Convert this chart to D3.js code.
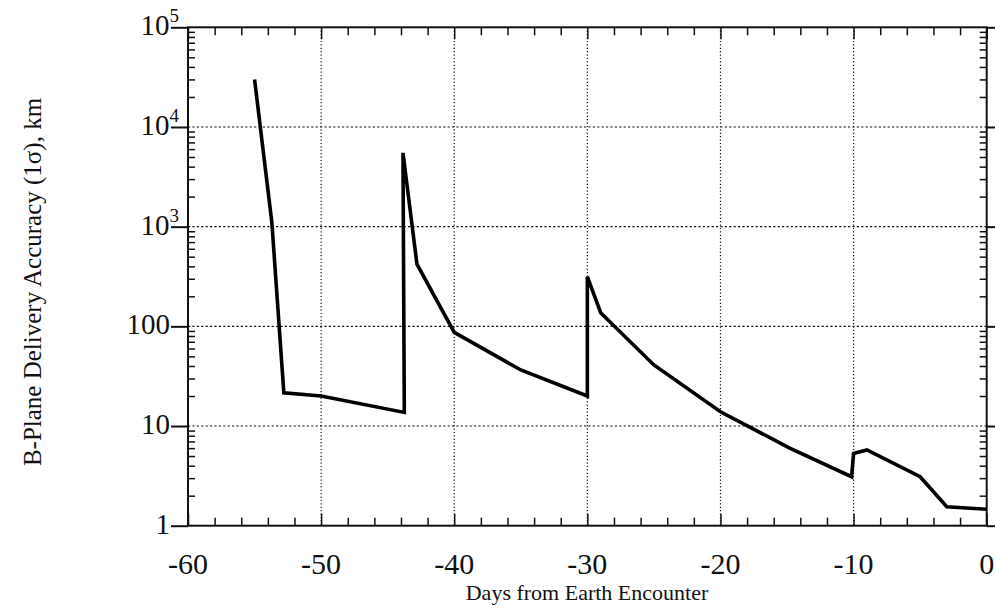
<!DOCTYPE html>
<html>
<head>
<meta charset="utf-8">
<script src="https://cdn.jsdelivr.net/npm/d3@7"></script>
<style>
  html, body { margin: 0; padding: 0; background: #fff; }
  svg { display: block; font-family: "Liberation Serif", "Times New Roman", serif; }
</style>
</head>
<body>
<svg id="chart" width="995" height="609"></svg>
<script>
// B-plane delivery accuracy versus time before Earth encounter
const days = [-55, -53.7, -52.8, -50, -43.75, -43.85, -42.8, -40, -35, -30, -30, -29, -25, -20, -14.8, -10.15, -10, -9, -5, -3, 0];
const accuracyKm = [30000, 1100, 21.5, 20, 13.7, 5500, 420, 87, 36.5, 20, 315, 137, 41, 13.9, 6, 3.1, 5.3, 5.75, 3.1, 1.55, 1.46];

const xTicks = [-60, -50, -40, -30, -20, -10, 0];
const xTickLabels = ["-60", "-50", "-40", "-30", "-20", "-10", "0"];
const yTicks = [1, 10, 100, 1000, 10000, 100000];
const yTickLabels = [
  { base: "1", exp: "" },
  { base: "10", exp: "" },
  { base: "100", exp: "" },
  { base: "10", exp: "3" },
  { base: "10", exp: "4" },
  { base: "10", exp: "5" }
];
const xTitle = "Days from Earth Encounter";
const yTitle = "B-Plane Delivery Accuracy (1σ), km";

const svg = d3.select("#chart");
const plotLeft = 188, plotRight = 986.7, plotTop = 27.3, plotBottom = 525.7;

const x = d3.scaleLinear().domain([-60, 0]).range([plotLeft, plotRight]);
const y = d3.scaleLog().domain([1, 1e5]).range([plotBottom, plotTop]);

const ink = "#111";

// dotted grid at major ticks
const grid = svg.append("g");
grid.selectAll("line.gx")
  .data(xTicks.filter(d => d > -60 && d < 0))
  .join("line")
  .attr("x1", d => x(d)).attr("x2", d => x(d))
  .attr("y1", plotTop).attr("y2", plotBottom)
  .attr("stroke", ink).attr("stroke-width", 1.2)
  .attr("stroke-dasharray", "1.2,2.2");
grid.selectAll("line.gy")
  .data(yTicks.filter(d => d > 1 && d < 1e5))
  .join("line")
  .attr("x1", plotLeft).attr("x2", plotRight)
  .attr("y1", d => y(d)).attr("y2", d => y(d))
  .attr("stroke", ink).attr("stroke-width", 1.2)
  .attr("stroke-dasharray", "2.2,2.2");

// minor ticks
const xMinor = d3.range(-58, 0, 2).filter(d => d % 10 !== 0);
const yMinor = [];
for (let e = 0; e < 5; e++) for (let m = 2; m <= 9; m++) yMinor.push(m * Math.pow(10, e));

const xBottom = d3.axisBottom(x).tickValues(xMinor).tickSize(-8).tickFormat("");
const xTop = d3.axisTop(x).tickValues(xMinor).tickSize(-8).tickFormat("");
const xBottomMajor = d3.axisBottom(x).tickValues(xTicks).tickSize(-12).tickFormat("");
const xTopMajor = d3.axisTop(x).tickValues(xTicks).tickSize(-12).tickFormat("");
const yLeftMinor = d3.axisLeft(y).tickValues(yMinor).tickSize(-7).tickFormat("");
const yRightMinor = d3.axisRight(y).tickValues(yMinor).tickSize(-7).tickFormat("");
const yLeftMajor = d3.axisLeft(y).tickValues(yTicks).tickSize(17).tickFormat("");
const yRightMajor = d3.axisRight(y).tickValues(yTicks).tickSize(10).tickFormat("");

function drawAxis(axis, tx, ty) {
  const g = svg.append("g").attr("transform", `translate(${tx},${ty})`).call(axis);
  g.select(".domain").remove();
  g.selectAll(".tick line").attr("stroke", ink).attr("stroke-width", 1.5);
  return g;
}
drawAxis(xBottom, 0, plotBottom);
drawAxis(xTop, 0, plotTop);
drawAxis(xBottomMajor, 0, plotBottom);
drawAxis(xTopMajor, 0, plotTop);
drawAxis(yLeftMinor, plotLeft, 0);
drawAxis(yRightMinor, plotRight, 0);
drawAxis(yLeftMajor, plotLeft, 0).selectAll(".tick line").attr("stroke-width", 2);
drawAxis(yRightMajor, plotRight, 0).selectAll(".tick line").attr("stroke-width", 2);

// frame
svg.append("rect")
  .attr("x", plotLeft).attr("y", plotTop)
  .attr("width", plotRight - plotLeft).attr("height", plotBottom - plotTop)
  .attr("fill", "none").attr("stroke", ink).attr("stroke-width", 2);

// data line
const line = d3.line()
  .x((d, i) => x(days[i]))
  .y((d, i) => y(accuracyKm[i]));
svg.append("path")
  .datum(accuracyKm)
  .attr("d", line)
  .attr("fill", "none")
  .attr("stroke", "#000")
  .attr("stroke-width", 3.6)
  .attr("stroke-linejoin", "miter")
  .attr("stroke-miterlimit", 3);

// x tick labels
svg.append("g").selectAll("text")
  .data(xTicks)
  .join("text")
  .attr("x", d => x(d))
  .attr("y", 574)
  .attr("text-anchor", "middle")
  .attr("font-size", 30)
  .attr("fill", ink)
  .text((d, i) => xTickLabels[i]);

// y tick labels (powers of ten with superscripts)
const yl = svg.append("g").selectAll("text")
  .data(yTicks)
  .join("text")
  .attr("x", 170)
  .attr("y", d => y(d) + 8)
  .attr("text-anchor", "end")
  .attr("font-size", 29)
  .attr("fill", ink);
yl.each(function(d, i) {
  const t = d3.select(this);
  const lab = yTickLabels[i];
  if (lab.exp) {
    t.attr("x", 179);
    t.append("tspan").text(lab.base);
    t.append("tspan").attr("font-size", 19).attr("dy", -13).text(lab.exp);
  } else {
    t.text(lab.base);
  }
});

// axis titles
svg.append("text")
  .attr("x", 587).attr("y", 600)
  .attr("text-anchor", "middle")
  .attr("font-size", 22)
  .attr("fill", ink)
  .text(xTitle);

svg.append("text")
  .attr("transform", "translate(41,282) rotate(-90)")
  .attr("text-anchor", "middle")
  .attr("font-size", 25)
  .attr("fill", ink)
  .text(yTitle);
</script>
</body>
</html>
